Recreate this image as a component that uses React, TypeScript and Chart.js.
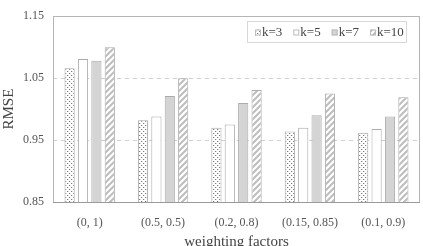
import React, { useEffect, useRef } from "react";
import { Chart, registerables } from "chart.js";

Chart.register(...registerables);

const categories = ["(0, 1)", "(0.5, 0.5)", "(0.2, 0.8)", "(0.15, 0.85)", "(0.1, 0.9)"];
const seriesLabels = ["k=3", "k=5", "k=7", "k=10"];
const k3 = [1.066, 0.982, 0.970, 0.964, 0.962];
const k5 = [1.081, 0.988, 0.975, 0.970, 0.968];
const k7 = [1.078, 1.021, 1.010, 0.990, 0.988];
const k10 = [1.100, 1.050, 1.031, 1.025, 1.019];
const yTicks = [0.85, 0.95, 1.05, 1.15];

const FONT = "'Liberation Serif', 'Times New Roman', serif";

function makeDots(): CanvasPattern | string {
  const s = 4;
  const c = document.createElement("canvas");
  c.width = s;
  c.height = s;
  const g = c.getContext("2d");
  if (!g) return "#ccc";
  g.fillStyle = "#ffffff";
  g.fillRect(0, 0, s, s);
  g.fillStyle = "#7a7a7a";
  g.fillRect(1, 1, 1, 1);
  g.fillRect(3, 3, 1, 1);
  g.fillStyle = "#dddddd";
  g.fillRect(2, 1, 1, 1);
  g.fillRect(0, 3, 1, 1);
  const p = g.createPattern(c, "repeat");
  return p || "#ccc";
}

function makeHatch(): CanvasPattern | string {
  const s = 6;
  const c = document.createElement("canvas");
  c.width = s;
  c.height = s;
  const g = c.getContext("2d");
  if (!g) return "#ddd";
  g.fillStyle = "#ffffff";
  g.fillRect(0, 0, s, s);
  g.strokeStyle = "#bdbdbd";
  g.lineWidth = 2;
  g.beginPath();
  g.moveTo(-1, s + 1);
  g.lineTo(s + 1, -1);
  g.moveTo(-1 - s, s + 1);
  g.lineTo(1, -1);
  g.moveTo(s - 1, s + 1);
  g.lineTo(2 * s + 1, -1);
  g.stroke();
  const p = g.createPattern(c, "repeat");
  return p || "#ddd";
}

export default function App() {
  const ref = useRef<HTMLCanvasElement | null>(null);

  useEffect(() => {
    if (!ref.current) return;
    const dots = makeDots();
    const hatch = makeHatch();
    const fills: any[] = [dots, "#ffffff", "#d4d4d4", hatch];
    const values = [k3, k5, k7, k10];
    const border = "#ababab";

    const frame = {
      id: "frame",
      beforeDatasetsDraw(chart: any) {
        const { ctx, chartArea: a } = chart;
        ctx.save();
        ctx.strokeStyle = "#b5b5b5";
        ctx.lineWidth = 1;
        ctx.strokeRect(Math.round(a.left) + 0.5, Math.round(a.top) + 0.5, Math.round(a.right - a.left) - 1, Math.round(a.bottom - a.top));
        ctx.strokeStyle = "#9a9a9a";
        ctx.beginPath();
        ctx.moveTo(a.left, Math.round(a.bottom) + 0.5);
        ctx.lineTo(a.right, Math.round(a.bottom) + 0.5);
        ctx.stroke();
        ctx.restore();
      },
      afterDraw(chart: any) {
        const { ctx } = chart;
        ctx.save();
        const bx = 247, by = 21, bw = 159, bh = 21;
        ctx.fillStyle = "#ffffff";
        ctx.fillRect(bx, by, bw, bh);
        ctx.strokeStyle = "#d8d8d8";
        ctx.lineWidth = 1;
        ctx.strokeRect(bx + 0.5, by + 0.5, bw, bh);
        ctx.font = "13px " + FONT;
        ctx.textBaseline = "middle";
        ctx.textAlign = "left";
        let x = 255;
        const cy = by + bh / 2 + 1;
        chart.data.datasets.forEach((ds: any) => {
          ctx.fillStyle = ds.backgroundColor;
          ctx.fillRect(x, cy - 3, 6, 6);
          ctx.strokeStyle = "#bbbbbb";
          ctx.strokeRect(x + 0.5, cy - 2.5, 5, 5);
          ctx.fillStyle = "#444444";
          ctx.fillText(ds.label, x + 7, cy);
          x += 7 + ctx.measureText(ds.label).width + 11;
        });
        ctx.restore();
      },
    };

    const chart = new Chart(ref.current, {
      type: "bar",
      data: {
        labels: categories,
        datasets: seriesLabels.map((l, i) => ({
          label: l,
          data: values[i],
          backgroundColor: fills[i],
          borderColor: border,
          borderWidth: 1,
          categoryPercentage: 0.73,
          barPercentage: 0.76,
        })),
      },
      options: {
        animation: false,
        responsive: false,
        maintainAspectRatio: false,
        layout: { padding: { top: 7, right: 3, left: 0, bottom: 0 } },
        plugins: {
          legend: { display: false },
          tooltip: { enabled: false },
        },
        scales: {
          x: {
            grid: { display: false, drawTicks: false },
            border: { display: false },
            ticks: {
              padding: 14,
              color: "#555555",
              font: { family: FONT, size: 12 },
              maxRotation: 0,
            },
            title: {
              display: true,
              text: "weighting factors",
              color: "#444444",
              font: { family: FONT, size: 15 },
              padding: { top: 6, bottom: -5 },
            },
            afterFit(scale: any) {
              scale.height = 44;
            },
          },
          y: {
            min: 0.85,
            max: 1.15,
            afterBuildTicks(scale: any) {
              scale.ticks = yTicks.map((v) => ({ value: v }));
            },
            grid: {
              color: "#cfcfcf",
              drawTicks: false,
            },
            border: { display: false, dash: [4, 4] } as any,
            ticks: {
              padding: 9,
              color: "#555555",
              font: { family: FONT, size: 12 },
              callback: (v: any) => Number(v).toFixed(2),
            },
            title: {
              display: true,
              text: "RMSE",
              color: "#444444",
              font: { family: FONT, size: 15 },
              padding: { top: 0, bottom: 0 },
            },
            afterFit(scale: any) {
              scale.width = 53;
            },
          },
        },
      },
      plugins: [frame],
    } as any);
    return () => chart.destroy();
  }, []);

  return (
    <div style={{ position: "fixed", left: 0, top: 0, width: 423, height: 246, background: "#fff" }}>
      <canvas ref={ref} width={423} height={246} style={{ display: "block", width: 423, height: 246 }} />
    </div>
  );
}
